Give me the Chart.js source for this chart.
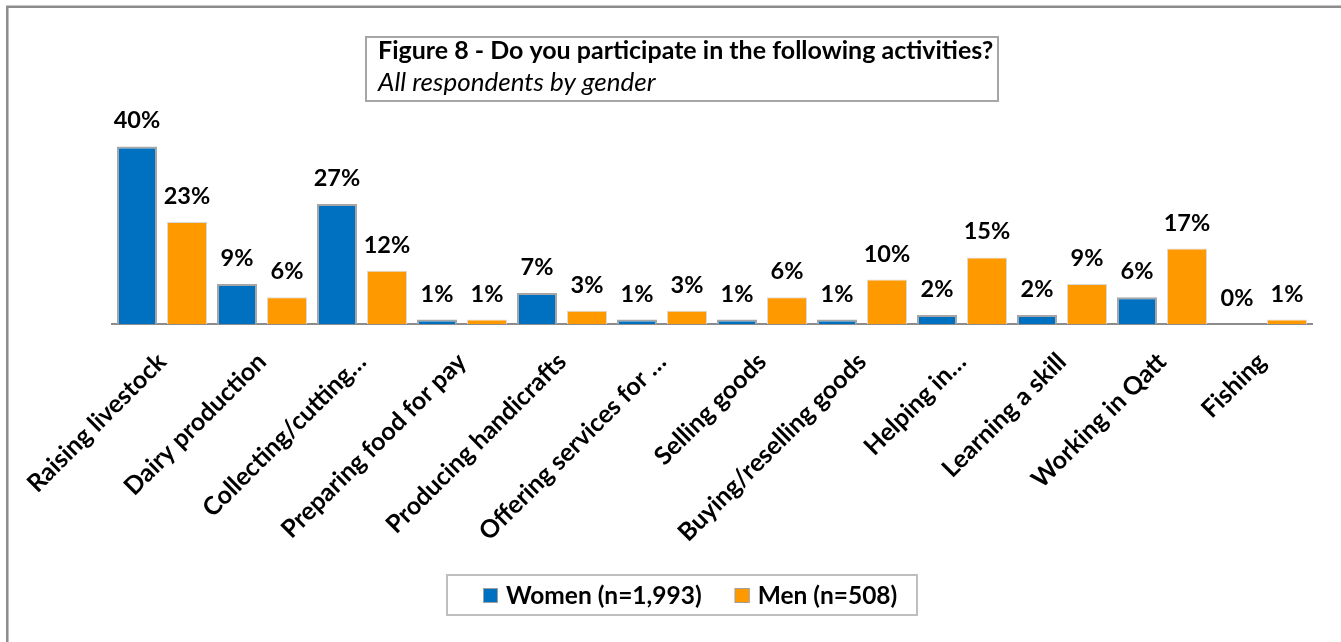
<!DOCTYPE html>
<html>
<head>
<meta charset="utf-8">
<title>Figure 8</title>
<script src="https://cdn.jsdelivr.net/npm/chart.js@4/dist/chart.umd.min.js"></script>
<style>
    body { margin: 0; background: #fff; }
    #wrap { position: relative; width: 1341px; height: 642px; }
</style>
</head>
<body>
<div id="wrap"><canvas id="myChart"></canvas></div>
<script>
const categories = ['Raising livestock', 'Dairy production', 'Collecting/cutting…', 'Preparing food for pay',
    'Producing handicrafts', 'Offering services for …', 'Selling goods', 'Buying/reselling goods',
    'Helping in…', 'Learning a skill', 'Working in Qatt', 'Fishing'];
const women = [40, 9, 27, 1, 7, 1, 1, 1, 2, 2, 6, 0];
const men = [23, 6, 12, 1, 3, 3, 6, 10, 15, 9, 17, 1];
const seriesLabels = ['Women (n=1,993)', 'Men (n=508)'];
const titleText = 'Figure 8 - Do you participate in the following activities?';
const subtitleText = 'All respondents by gender';

const FONT = 'Lato, "Open Sans", sans-serif';
Chart.defaults.font.family = FONT;

// outer frame, title box and legend box
const framePlugin = {
    id: 'frame',
    beforeDraw(chart) {
        const ctx = chart.ctx;
        ctx.save();
        ctx.fillStyle = '#fff';
        ctx.fillRect(0, 0, chart.width, chart.height);
        ctx.strokeStyle = '#8c8c8c';
        ctx.lineWidth = 2.5;
        ctx.beginPath();
        ctx.moveTo(7.3, chart.height);
        ctx.lineTo(7.3, 6.7);
        ctx.lineTo(chart.width, 6.7);
        ctx.stroke();

        // title box
        ctx.strokeStyle = '#a6a6a6';
        ctx.lineWidth = 2;
        ctx.strokeRect(366, 37, 632, 64);
        ctx.fillStyle = '#000';
        ctx.textBaseline = 'alphabetic';
        ctx.textAlign = 'left';
        ctx.font = 'bold 25px ' + FONT;
        ctx.fillText(titleText, 378, 59);
        ctx.font = 'italic 26px ' + FONT;
        ctx.fillText(subtitleText, 378, 91);
        ctx.restore();
    },
    afterDraw(chart) {
        const ctx = chart.ctx;
        ctx.save();
        ctx.strokeStyle = '#bfbfbf';
        ctx.lineWidth = 2;
        ctx.strokeRect(447, 575, 470, 40);
        ctx.font = 'bold 24.5px ' + FONT;
        ctx.textBaseline = 'middle';
        ctx.textAlign = 'left';
        let x = 483;
        chart.data.datasets.forEach((ds) => {
            ctx.fillStyle = ds.backgroundColor;
            ctx.fillRect(x, 588, 15, 15);
            ctx.strokeStyle = '#a0a0a0';
            ctx.lineWidth = 1;
            ctx.strokeRect(x + 0.5, 588.5, 14, 14);
            ctx.fillStyle = '#000';
            ctx.fillText(ds.label, x + 23, 596);
            x += 23 + ctx.measureText(ds.label).width + 33;
        });
        ctx.restore();
    }
};

// percentage above each bar
const valueLabels = {
    id: 'valueLabels',
    afterDatasetsDraw(chart) {
        const ctx = chart.ctx;
        ctx.save();
        ctx.font = 'bold 23.5px ' + FONT;
        ctx.fillStyle = '#000';
        ctx.textAlign = 'center';
        ctx.textBaseline = 'alphabetic';
        chart.data.datasets.forEach((ds, i) => {
            chart.getDatasetMeta(i).data.forEach((bar, j) => {
                ctx.fillText(ds.data[j] + '%', bar.x, bar.y - 18);
            });
        });
        ctx.restore();
    }
};

const ctx = document.getElementById('myChart').getContext('2d');
const myChart = new Chart(ctx, {
    type: 'bar',
    data: {
        labels: categories,
        datasets: [{
            label: seriesLabels[0],
            data: women,
            backgroundColor: '#0070c0',
            borderColor: '#a6a6a6',
            borderWidth: (c) => c.raw ? 2 : 0,
            borderSkipped: 'bottom'
        }, {
            label: seriesLabels[1],
            data: men,
            backgroundColor: '#ff9900',
            borderColor: '#d9d9d9',
            borderWidth: (c) => c.raw ? 1 : 0,
            borderSkipped: 'bottom'
        }]
    },
    options: {
        responsive: true,
        maintainAspectRatio: false,
        animation: false,
        layout: {
            padding: { left: 112, right: 29, top: 102, bottom: 0 }
        },
        categoryPercentage: 1.0,
        barPercentage: 0.8,
        plugins: {
            legend: { display: false },
            title: { display: false },
            tooltip: { enabled: false }
        },
        scales: {
            x: {
                grid: { display: false, drawTicks: false },
                border: { display: true, color: '#8c8c8c', width: 2 },
                ticks: {
                    autoSkip: false,
                    maxRotation: 45,
                    minRotation: 45,
                    padding: 23,
                    color: '#000',
                    font: { size: 25, weight: 'bold' }
                },
                afterFit: (scale) => { scale.height = 318; }
            },
            y: {
                display: false,
                min: 0,
                max: 50
            }
        }
    },
    plugins: [framePlugin, valueLabels]
});
</script>
</body>
</html>
